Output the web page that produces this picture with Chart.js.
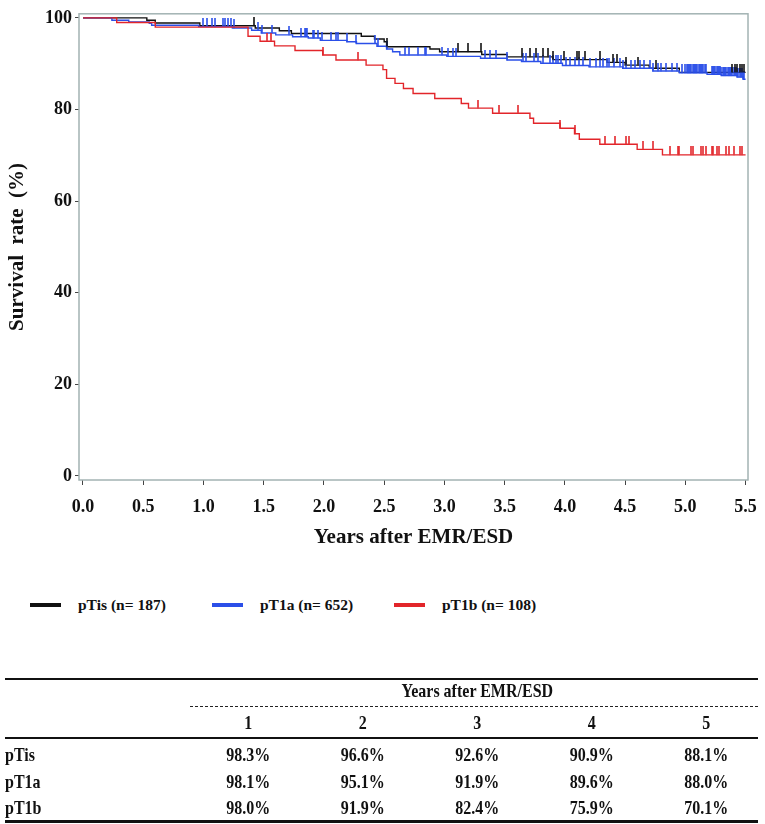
<!DOCTYPE html>
<html>
<head>
<meta charset="utf-8">
<script src="https://cdn.jsdelivr.net/npm/chart.js@4.4.1/dist/chart.umd.min.js"></script>
<style>
  body { margin: 0; background: #fff; width: 765px; height: 824px; position: relative; overflow: hidden;
         font-family: "Liberation Serif", "Times New Roman", serif; font-weight: bold; color: #111; }
  #chartBox { position: absolute; left: 0; top: 0; width: 765px; height: 560px; }
  .legend { position: absolute; left: 30px; top: 595px; height: 20px; display: flex; }
  .legend-item { width: 182px; display: flex; align-items: center; font-size: 15.5px; line-height: 20px; }
  .legend-item i { display: inline-block; width: 31px; height: 4px; margin-right: 17px; }
  .tbl { position: absolute; left: 0; top: 0; width: 765px; height: 824px; pointer-events: none; }
  .rule { position: absolute; background: #111; }
  .dash { position: absolute; border-top: 1.2px dashed #222; }
  .cell { position: absolute; height: 20px; line-height: 20px; font-size: 16px; white-space: nowrap; }
  .cell span { display: inline-block; transform: scaleY(1.2); }
</style>
</head>
<body>
<div id="chartBox"><canvas id="kmChart"></canvas></div>
<div class="legend" id="legend"></div>
<div class="tbl" id="table"></div>

<script>
// groups
const groups = ["pTis", "pT1a", "pT1b"];
const groupN = [187, 652, 108];
const groupColors = ["#111111", "#2b4fe8", "#e2252a"];

// Kaplan-Meier steps (years, survival %)
const tisTime = [0, 0.53, 0.60, 0.97, 1.43, 1.63, 1.73, 2.31, 2.42, 2.50, 2.52, 2.88, 2.96, 3.31, 3.52, 3.90, 4.35, 4.50, 4.70, 4.95, 5.50];
const tisSurv = [100, 99.5, 98.9, 98.3, 97.8, 97.2, 96.6, 96.0, 95.4, 94.8, 93.7, 93.2, 92.6, 92.0, 91.5, 90.9, 90.3, 89.7, 89.0, 88.1, 88.1];

const t1aTime = [0, 0.24, 0.38, 0.55, 0.57, 0.96, 1.24, 1.40, 1.48, 1.60, 1.74, 1.87, 1.97, 2.19, 2.27, 2.44, 2.52, 2.57, 2.63, 3.02, 3.30, 3.52, 3.64, 3.80, 3.98, 4.20, 4.48, 4.73, 4.95, 5.18, 5.30, 5.43, 5.48, 5.50];
const t1aSurv = [100, 99.5, 99.1, 98.8, 98.4, 98.1, 97.8, 97.3, 96.7, 96.3, 95.9, 95.6, 95.1, 94.8, 94.4, 93.8, 93.2, 92.6, 91.9, 91.6, 91.2, 90.8, 90.5, 90.1, 89.6, 89.3, 89.0, 88.4, 88.0, 87.7, 87.4, 87.1, 86.6, 86.6];

const t1bTime = [0, 0.28, 0.60, 1.37, 1.47, 1.59, 1.76, 1.99, 2.10, 2.35, 2.49, 2.52, 2.59, 2.66, 2.74, 2.92, 3.14, 3.20, 3.40, 3.71, 3.74, 3.96, 4.08, 4.12, 4.29, 4.60, 4.81, 5.50];
const t1bSurv = [100, 99.0, 98.0, 96.0, 94.9, 93.9, 92.9, 91.9, 90.8, 89.7, 88.7, 86.8, 85.7, 84.6, 83.5, 82.4, 81.3, 80.3, 79.2, 78.1, 77.0, 75.9, 74.7, 73.5, 72.4, 71.3, 70.1, 70.1];

// censored times
const tisCens = [1.42, 2.52, 3.11, 3.20, 3.30, 3.64, 3.71, 3.76, 3.82, 3.86, 3.90, 3.99, 4.10, 4.12, 4.17, 4.29, 4.40, 4.43, 4.51, 4.61, 4.76,
  5.39, 5.41, 5.43, 5.45, 5.47, 5.49];
const t1aCens = [1.00, 1.03, 1.07, 1.10, 1.16, 1.18, 1.20, 1.23, 1.25, 1.45, 1.49, 1.57, 1.71, 1.81, 1.84, 1.85, 1.86, 1.91, 1.92, 1.95, 1.98,
  2.06, 2.10, 2.12, 2.19, 2.27, 2.42, 2.45, 2.52, 2.67, 2.71, 2.78, 2.84, 2.85, 2.98, 3.03, 3.07, 3.10, 3.34, 3.38, 3.43, 3.52,
  3.65, 3.68, 3.74, 3.78, 3.82, 3.88, 3.90, 3.93, 3.94, 3.97, 4.01, 4.04, 4.08, 4.12, 4.15, 4.21, 4.26, 4.29, 4.32, 4.35, 4.37,
  4.41, 4.46, 4.48, 4.51, 4.55, 4.58, 4.62, 4.66, 4.71, 4.73, 4.77, 4.80, 4.84, 4.89, 4.93, 4.97,
  5.00, 5.01, 5.02, 5.03, 5.04, 5.05, 5.06, 5.07, 5.08, 5.09, 5.10, 5.11, 5.12, 5.13, 5.14, 5.15, 5.16, 5.17,
  5.22, 5.23, 5.24, 5.25, 5.26, 5.27, 5.28, 5.29, 5.30, 5.31, 5.32, 5.33, 5.34, 5.35, 5.36, 5.37, 5.38, 5.39,
  5.40, 5.41, 5.42, 5.43, 5.44, 5.45, 5.46, 5.47, 5.48, 5.49];
const t1bCens = [1.53, 1.56, 1.99, 2.28, 3.28, 3.45, 3.61, 3.96, 4.08, 4.33, 4.42, 4.51, 4.53, 4.65, 4.73,
  4.87, 4.94, 4.95, 5.05, 5.06, 5.13, 5.15, 5.17, 5.22, 5.23, 5.26, 5.28, 5.34, 5.36, 5.40, 5.45, 5.47];

// survival table
const tableYears = [1, 2, 3, 4, 5];
const rateTis = [98.3, 96.6, 92.6, 90.9, 88.1];
const rateT1a = [98.1, 95.1, 91.9, 89.6, 88.0];
const rateT1b = [98.0, 91.9, 82.4, 75.9, 70.1];

const xTicks = [0, 0.5, 1, 1.5, 2, 2.5, 3, 3.5, 4, 4.5, 5, 5.5];
const yTicks = [0, 20, 40, 60, 80, 100];

const serif = '"Liberation Serif", "Times New Roman", serif';

function toPoints(times, vals) {
    return times.map((t, i) => ({ x: t, y: vals[i] }));
}

function survAt(times, vals, t) {
    let s = vals[0];
    for (let i = 0; i < times.length; i++) {
        if (times[i] <= t) s = vals[i];
    }
    return s;
}

// censor mark: short vertical stroke rising from the curve
function tickMark(color) {
    const c = document.createElement("canvas");
    c.width = 2;
    c.height = 17;
    const g = c.getContext("2d");
    g.globalAlpha = 0.8;
    g.fillStyle = color;
    g.fillRect(0, 0, 2, 8.5);
    return c;
}

function lineSet(label, times, vals, color, order) {
    return {
        label: label,
        data: toPoints(times, vals),
        borderColor: color,
        borderWidth: 1.4,
        stepped: "before",
        pointRadius: 0,
        fill: false,
        order: order
    };
}

function censSet(label, cens, times, vals, color, order) {
    return {
        label: label + " censored",
        data: cens.map(t => ({ x: t, y: survAt(times, vals, t) })),
        showLine: false,
        pointStyle: tickMark(color),
        pointRadius: 1,
        order: order
    };
}

const framePlugin = {
    id: "frame",
    beforeDatasetsDraw(chart) {
        const { ctx, chartArea: a } = chart;
        ctx.save();
        ctx.strokeStyle = "#a3b3b3";
        ctx.lineWidth = 1.5;
        ctx.strokeRect(a.left, a.top, a.right - a.left, a.bottom - a.top);
        ctx.restore();
    }
};

function drawChart() {
    const ctx = document.getElementById("kmChart");
    new Chart(ctx, {
        type: "line",
        data: {
            datasets: [
                lineSet(groups[2], t1bTime, t1bSurv, groupColors[2], 0),
                censSet(groups[2], t1bCens, t1bTime, t1bSurv, groupColors[2], 1),
                censSet(groups[0], tisCens, tisTime, tisSurv, groupColors[0], 2),
                censSet(groups[1], t1aCens, t1aTime, t1aSurv, groupColors[1], 3),
                lineSet(groups[1], t1aTime, t1aSurv, groupColors[1], 4),
                lineSet(groups[0], tisTime, tisSurv, groupColors[0], 5)
            ]
        },
        options: {
            responsive: true,
            maintainAspectRatio: false,
            animation: false,
            events: [],
            layout: { padding: { top: 10, right: 17, left: 0, bottom: 0 } },
            plugins: { legend: { display: false }, tooltip: { enabled: false } },
            scales: {
                x: {
                    type: "linear",
                    min: -0.033,
                    max: 5.52,
                    afterFit: s => { s.height = 80; },
                    afterBuildTicks: s => { s.ticks = xTicks.map(v => ({ value: v })); },
                    border: { display: false },
                    grid: { drawOnChartArea: false, tickLength: 5, color: "#444", lineWidth: 1 },
                    ticks: {
                        padding: 8,
                        color: "#111",
                        font: { family: serif, size: 18, weight: "bold", lineHeight: 1.6 },
                        callback: v => v.toFixed(1)
                    },
                    title: {
                        display: true,
                        text: "Years after EMR/ESD",
                        color: "#111",
                        font: { family: serif, size: 21, weight: "bold" },
                        padding: { top: 0, bottom: 10 }
                    }
                },
                y: {
                    min: -0.9,
                    max: 100.9,
                    afterFit: s => { s.width = 79; },
                    afterBuildTicks: s => { s.ticks = yTicks.map(v => ({ value: v })); },
                    border: { display: false },
                    grid: { drawOnChartArea: false, tickLength: 4, color: "#444", lineWidth: 1 },
                    ticks: {
                        padding: 3,
                        color: "#111",
                        font: { family: serif, size: 18, weight: "bold" }
                    },
                    title: {
                        display: true,
                        text: "Survival  rate  (%)",
                        color: "#111",
                        font: { family: serif, size: 21, weight: "bold" },
                        padding: { top: 5, bottom: 0 }
                    }
                }
            }
        },
        plugins: [framePlugin]
    });
}

function drawLegend() {
    const legend = document.getElementById("legend");
    legend.innerHTML = groups.map((g, i) => `
        <div class="legend-item">
            <i style="background:${groupColors[i]}"></i>
            <span>${g} (n= ${groupN[i]})</span>
        </div>
    `).join("");
}

function drawTable() {
    const table = document.getElementById("table");
    const rates = [rateTis, rateT1a, rateT1b];
    const colLeft = 191;
    const colW = 114.5;
    const rowY = [755, 782, 808];
    let html = "";

    html += `<div class="rule" style="left:5px;top:678px;width:753px;height:1.5px"></div>`;
    html += `<div class="cell" style="left:${colLeft}px;width:${colW * 5}px;top:681px;text-align:center"><span>Years after EMR/ESD</span></div>`;
    html += `<div class="dash" style="left:190px;top:706px;width:568px"></div>`;
    html += tableYears.map((y, j) => `
        <div class="cell" style="left:${colLeft + j * colW}px;width:${colW}px;top:713px;text-align:center"><span>${y}</span></div>
    `).join("");
    html += `<div class="rule" style="left:5px;top:737px;width:753px;height:2px"></div>`;

    html += groups.map((g, i) => `
        <div class="cell" style="left:5px;width:150px;top:${rowY[i] - 10}px"><span>${g}</span></div>
        ${rates[i].map((r, j) => `
            <div class="cell" style="left:${colLeft + j * colW}px;width:${colW}px;top:${rowY[i] - 10}px;text-align:center"><span>${r.toFixed(1)}%</span></div>
        `).join("")}
    `).join("");

    html += `<div class="rule" style="left:5px;top:820px;width:753px;height:2.5px"></div>`;
    table.innerHTML = html;
}

drawChart();
drawLegend();
drawTable();
</script>
</body>
</html>
